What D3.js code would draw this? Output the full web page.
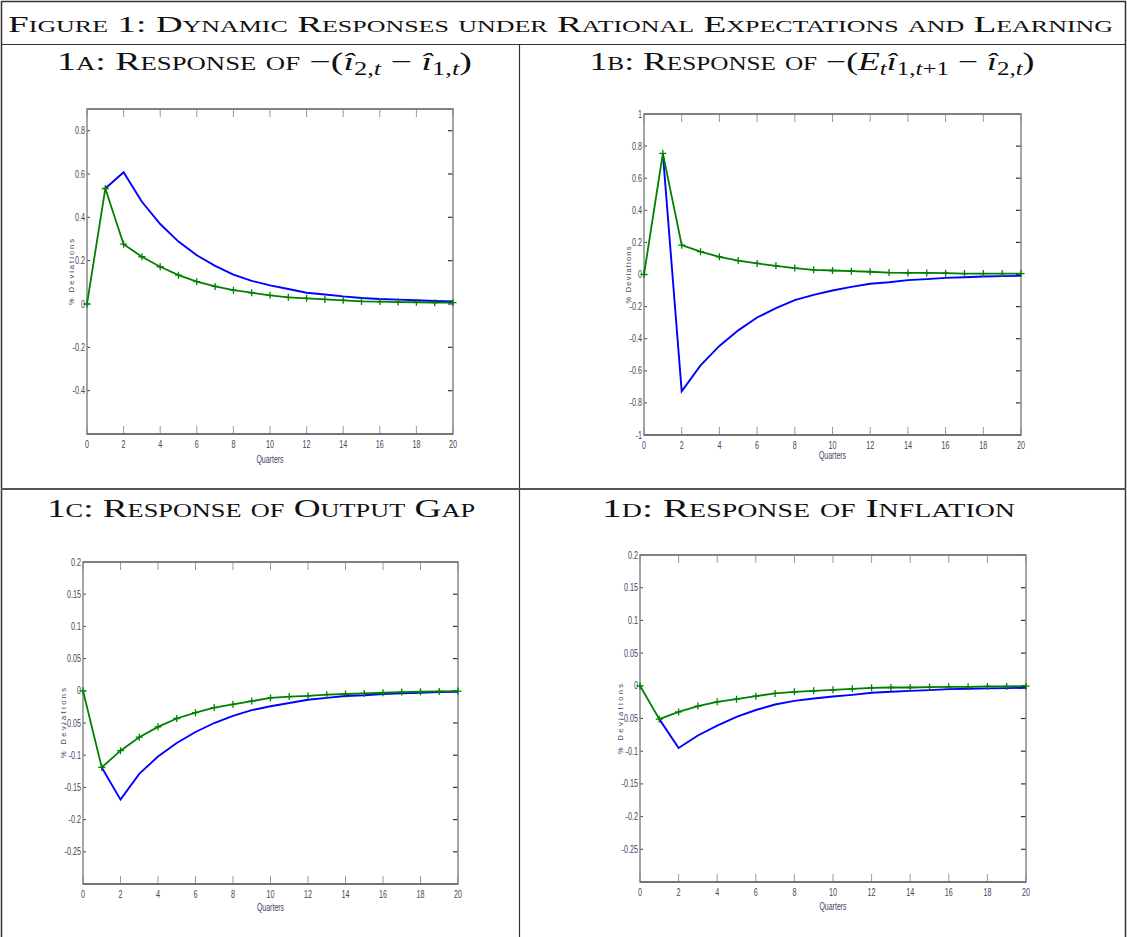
<!DOCTYPE html>
<html><head><meta charset="utf-8">
<script src="https://cdn.jsdelivr.net/npm/d3@7"></script>
<style>
html,body{margin:0;padding:0;background:#fff;}
svg{display:block;}
.serif{font-family:"Liberation Serif","DejaVu Serif",serif;}
.sc{font-variant:small-caps;}
.tick{font-family:"Liberation Sans Narrow","Liberation Sans",Arial,sans-serif;font-size:10px;fill:#4a4060;}
</style></head>
<body>
<svg id="fig" width="1127" height="937"></svg>
<script>
// ---------- data ----------
const quarters = [0,1,2,3,4,5,6,7,8,9,10,11,12,13,14,15,16,17,18,19,20];
const quartersFrom1 = [1,2,3,4,5,6,7,8,9,10,11,12,13,14,15,16,17,18,19,20];
const xTicks = [0,2,4,6,8,10,12,14,16,18,20];

// Panel 1A
const aRE = [0.533,0.608,0.472,0.369,0.288,0.225,0.176,0.136,0.107,0.086,0.069,0.052,0.044,0.035,0.028,0.023,0.020,0.017,0.014,0.012];
const aLearn = [0,0.533,0.276,0.218,0.172,0.133,0.103,0.081,0.064,0.052,0.040,0.031,0.026,0.021,0.017,0.012,0.011,0.009,0.008,0.006,0.006];
const aYTicks = [-0.4,-0.2,0,0.2,0.4,0.6,0.8];
const aYDomain = [-0.6,0.9];

// Panel 1B
const bRE = [0.755,-0.728,-0.566,-0.445,-0.348,-0.268,-0.210,-0.160,-0.127,-0.100,-0.077,-0.058,-0.048,-0.035,-0.029,-0.021,-0.017,-0.012,-0.010,-0.008];
const bLearn = [0,0.755,0.183,0.142,0.110,0.087,0.069,0.054,0.040,0.029,0.025,0.021,0.017,0.012,0.010,0.010,0.008,0.006,0.006,0.006,0.006];
const bYTicks = [-1,-0.8,-0.6,-0.4,-0.2,0,0.2,0.4,0.6,0.8,1];
const bYDomain = [-1,1];

// Panel 1C
const cRE = [-0.119,-0.169,-0.129,-0.102,-0.081,-0.064,-0.050,-0.039,-0.030,-0.024,-0.019,-0.014,-0.011,-0.008,-0.007,-0.005,-0.004,-0.003,-0.002,-0.0015];
const cLearn = [0,-0.119,-0.093,-0.072,-0.056,-0.043,-0.034,-0.026,-0.021,-0.016,-0.011,-0.009,-0.008,-0.006,-0.005,-0.004,-0.003,-0.002,-0.0015,-0.001,-0.0005];
const cdYTicks = [-0.25,-0.2,-0.15,-0.1,-0.05,0,0.05,0.1,0.15,0.2];
const cdYDomain = [-0.3,0.2];

// Panel 1D
const dRE = [-0.051,-0.095,-0.076,-0.061,-0.0475,-0.037,-0.0286,-0.023,-0.0194,-0.0163,-0.0138,-0.0107,-0.0092,-0.0077,-0.0066,-0.0051,-0.0046,-0.004,-0.0036,-0.003];
const dLearn = [0,-0.051,-0.040,-0.031,-0.0245,-0.0204,-0.0158,-0.0117,-0.0092,-0.0077,-0.0061,-0.0046,-0.0031,-0.0026,-0.0026,-0.002,-0.0015,-0.0015,-0.001,-0.001,-0.0005];

const figTitle = "Figure 1: Dynamic Responses under Rational Expectations and Learning";
const yLabel = "% Deviations";
const xLabel = "Quarters";

// ---------- drawing ----------
const svg = d3.select("#fig");

// table frame
const frame = svg.append("g").attr("fill","none");
frame.append("line").attr("x1",1).attr("x2",1126).attr("y1",1.5).attr("y2",1.5).attr("stroke","#333").attr("stroke-width",1.5);
frame.append("line").attr("x1",1.5).attr("x2",1.5).attr("y1",1).attr("y2",937).attr("stroke","#333").attr("stroke-width",1.5);
frame.append("line").attr("x1",1125.5).attr("x2",1125.5).attr("y1",1).attr("y2",937).attr("stroke","#333").attr("stroke-width",1.5);
frame.append("line").attr("x1",1).attr("x2",1126).attr("y1",44.5).attr("y2",44.5).attr("stroke","#333").attr("stroke-width",1.2);
frame.append("line").attr("x1",519.5).attr("x2",519.5).attr("y1",44).attr("y2",937).attr("stroke","#333").attr("stroke-width",1.2);
frame.append("line").attr("x1",1).attr("x2",1126).attr("y1",489).attr("y2",489).attr("stroke","#555").attr("stroke-width",2.2);

// main title
svg.append("text").attr("class","serif sc").attr("font-size",23).attr("x",560.5).attr("y",32)
  .attr("text-anchor","middle").attr("fill","#111")
  .attr("textLength",1105).attr("lengthAdjust","spacingAndGlyphs").text(figTitle);

// panel titles (with math)
function panelTitle(parts, cx, y, targetW){
  const t = svg.append("text").attr("class","serif").attr("font-size",25.5).attr("x",cx).attr("y",y)
    .attr("text-anchor","middle").attr("fill","#111")
    .attr("textLength",targetW).attr("lengthAdjust","spacingAndGlyphs");
  parts.forEach(p=>{
    const ts = t.append("tspan").text(p.t);
    if(p.sc) ts.attr("class","sc");
    if(p.it) ts.attr("font-style","italic");
    if(p.sub) ts.attr("font-size","0.7em").attr("baseline-shift","-25%");
  });
}
panelTitle([{t:"1a: Response of ",sc:1},{t:"\u2212("},{t:"\u00ee",it:1},{t:"2,",sub:1},{t:"t",sub:1,it:1},{t:" \u2212 "},{t:"\u00ee",it:1},{t:"1,",sub:1},{t:"t",sub:1,it:1},{t:")"}], 264.5, 70, 415);
panelTitle([{t:"1b: Response of ",sc:1},{t:"\u2212("},{t:"E",it:1},{t:"t",sub:1,it:1},{t:"\u00ee",it:1},{t:"1,",sub:1},{t:"t",sub:1,it:1},{t:"+1",sub:1},{t:" \u2212 "},{t:"\u00ee",it:1},{t:"2,",sub:1},{t:"t",sub:1,it:1},{t:")"}], 812, 70, 445);
panelTitle([{t:"1c: Response of Output Gap",sc:1}], 261, 517, 428);
panelTitle([{t:"1d: Response of Inflation",sc:1}], 808.5, 517, 413);

const fmt = v => String(+v.toFixed(2));

function panel(cfg){
  const x = d3.scaleLinear().domain([0,20]).range([cfg.x0,cfg.x1]);
  const y = d3.scaleLinear().domain(cfg.yDomain).range([cfg.y1,cfg.y0]);
  const g = svg.append("g");
  const tl = 6;
  // top & bottom ticks (inward)
  const xt = g.append("g");
  xTicks.forEach(v=>{
    xt.append("line").attr("x1",x(v)).attr("x2",x(v)).attr("y1",cfg.y0).attr("y2",cfg.y0+tl+2).attr("stroke","#999").attr("stroke-width",1);
    xt.append("line").attr("x1",x(v)).attr("x2",x(v)).attr("y1",cfg.y1).attr("y2",cfg.y1-tl-2).attr("stroke","#999").attr("stroke-width",1);
  });
  // left & right ticks
  cfg.yTicks.forEach(v=>{
    g.append("line").attr("x1",cfg.x0).attr("x2",cfg.x0+3).attr("y1",y(v)).attr("y2",y(v)).attr("stroke","#444").attr("stroke-width",1);
    g.append("line").attr("x1",cfg.x1).attr("x2",cfg.x1-5).attr("y1",y(v)).attr("y2",y(v)).attr("stroke","#333").attr("stroke-width",1.2);
  });
  // box
  g.append("rect").attr("x",cfg.x0).attr("y",cfg.y0).attr("width",cfg.x1-cfg.x0).attr("height",cfg.y1-cfg.y0)
    .attr("fill","none").attr("stroke","#888").attr("stroke-width",1.5);
  g.append("line").attr("x1",cfg.x0).attr("x2",cfg.x1).attr("y1",cfg.y1).attr("y2",cfg.y1).attr("stroke","#666").attr("stroke-width",1.6);
  g.append("line").attr("x1",cfg.x0).attr("x2",cfg.x1).attr("y1",cfg.y0).attr("y2",cfg.y0).attr("stroke","#777").attr("stroke-width",1.6);
  // tick labels
  xTicks.forEach(v=>{
    g.append("text").attr("class","tick").attr("text-anchor","middle")
      .attr("transform",`translate(${x(v)},${cfg.y1+14}) scale(0.72,1)`).text(fmt(v));
  });
  cfg.yTicks.forEach(v=>{
    g.append("text").attr("class","tick").attr("text-anchor","end")
      .attr("transform",`translate(${cfg.x0-2},${y(v)+3.5}) scale(0.72,1)`).text(fmt(v));
  });
  // axis titles
  g.append("text").attr("class","tick").attr("text-anchor","middle").attr("font-size","9px")
    .attr("transform",`translate(${(cfg.x0+cfg.x1)/2},${cfg.xlabY}) scale(0.7,1)`).text(xLabel);
  g.append("text").attr("text-anchor","middle")
    .attr("font-family","'Liberation Sans',Arial,sans-serif").attr("font-size",7.5).attr("fill","#4a4060")
    .attr("textLength",cfg.ylabLen).attr("lengthAdjust","spacing")
    .attr("transform",`translate(${cfg.ylabX},${cfg.ylabY}) rotate(-90)`).text(yLabel);
  // lines
  const line = d3.line().x(d=>x(d[0])).y(d=>y(d[1]));
  const reData = quartersFrom1.map((q,i)=>[q,cfg.re[i]]);
  const lnData = quarters.map((q,i)=>[q,cfg.learn[i]]);
  g.append("path").datum(reData).attr("d",line).attr("fill","none").attr("stroke","#0000ff").attr("stroke-width",1.9);
  g.append("path").datum(lnData).attr("d",line).attr("fill","none").attr("stroke","#008000").attr("stroke-width",1.8);
  const m = 3.5;
  g.append("g").selectAll("path").data(lnData).join("path")
    .attr("d",d=>`M${x(d[0])-m},${y(d[1])}H${x(d[0])+m}M${x(d[0])},${y(d[1])-m}V${y(d[1])+m}`)
    .attr("stroke","#008000").attr("stroke-width",1.3).attr("fill","none");
}

panel({x0:87,x1:453,y0:109,y1:434,yDomain:aYDomain,yTicks:aYTicks,re:aRE,learn:aLearn,xlabY:463,ylabX:74,ylabY:272,ylabLen:66});
panel({x0:644,x1:1021,y0:114,y1:435,yDomain:bYDomain,yTicks:bYTicks,re:bRE,learn:bLearn,xlabY:459,ylabX:631,ylabY:275,ylabLen:57});
panel({x0:83,x1:458,y0:562,y1:884,yDomain:cdYDomain,yTicks:cdYTicks,re:cRE,learn:cLearn,xlabY:911,ylabX:66,ylabY:723,ylabLen:70});
panel({x0:640,x1:1026,y0:555,y1:882,yDomain:cdYDomain,yTicks:cdYTicks,re:dRE,learn:dLearn,xlabY:910,ylabX:623,ylabY:719,ylabLen:70});
</script>
</body></html>
